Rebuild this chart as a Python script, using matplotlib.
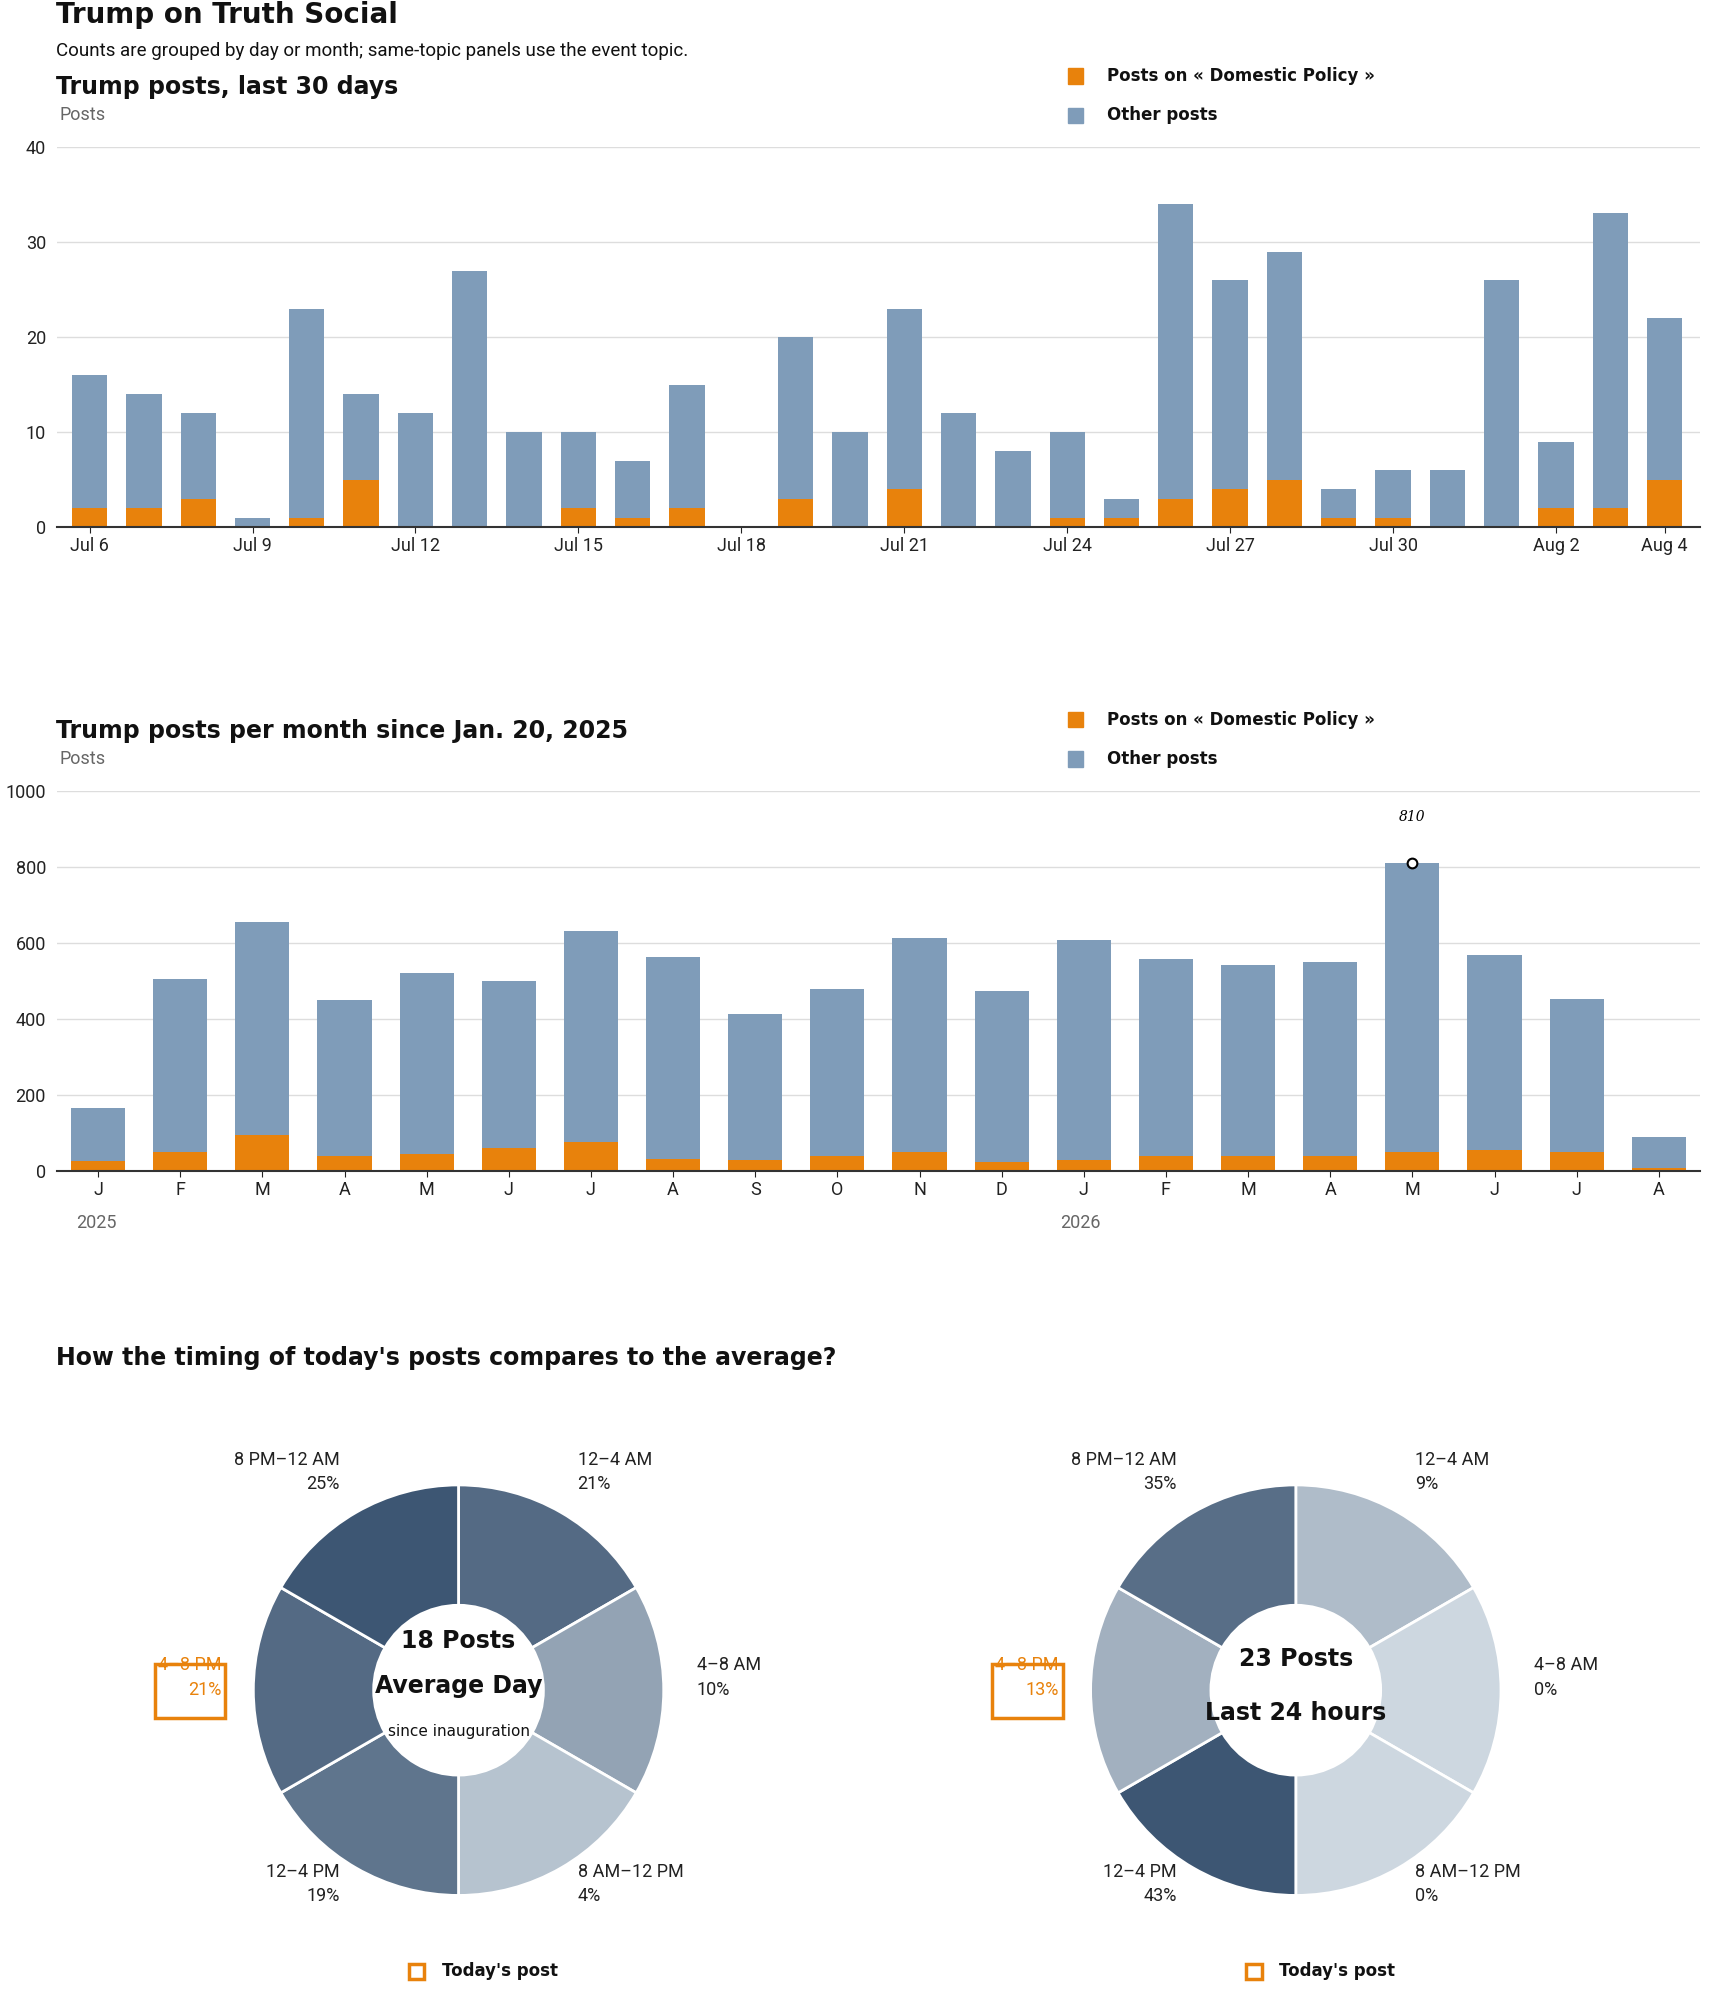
import matplotlib
matplotlib.use("Agg")
import matplotlib.pyplot as plt
import numpy as np
from matplotlib.colors import LinearSegmentedColormap
from matplotlib.patches import Rectangle

# ---------------- data ----------------
day_labels = ["Jul 6","Jul 7","Jul 8","Jul 9","Jul 10","Jul 11","Jul 12","Jul 13","Jul 14","Jul 15",
              "Jul 16","Jul 17","Jul 18","Jul 19","Jul 20","Jul 21","Jul 22","Jul 23","Jul 24","Jul 25",
              "Jul 26","Jul 27","Jul 28","Jul 29","Jul 30","Jul 31","Aug 1","Aug 2","Aug 3","Aug 4"]
day_total = [16,14,12,1,23,14,12,27,10,10,7,15,0,20,10,23,12,8,10,3,34,26,29,4,6,6,26,9,33,22]
day_topic = [2,2,3,0,1,5,0,0,0,2,1,2,0,3,0,4,0,0,1,1,3,4,5,1,1,0,0,2,2,5]
day_ticks = ["Jul 6","Jul 9","Jul 12","Jul 15","Jul 18","Jul 21","Jul 24","Jul 27","Jul 30","Aug 2","Aug 4"]

month_labels = ["J","F","M","A","M","J","J","A","S","O","N","D","J","F","M","A","M","J","J","A"]
month_total = [165,505,655,448,520,500,630,563,413,478,612,473,606,557,540,550,810,567,453,90]
month_topic = [25,50,95,38,45,60,75,30,28,38,48,22,28,38,38,40,48,55,50,8]
year_labels = ["2025","2026"]

slot_labels = ["12–4 AM","4–8 AM","8 AM–12 PM","12–4 PM","4–8 PM","8 PM–12 AM"]
avg_pct = [21,10,4,19,21,25]
today_pct = [9,0,0,43,13,35]
avg_posts = 18
today_posts = 23

BLUE = "#7f9cb9"; ORANGE = "#e8820c"; DARK = "#111111"
HF = "DejaVu Sans"; BF = "Roboto"

W, H = 1350, 1573
fig = plt.figure(figsize=(17.1, 19.93), dpi=100)
def fx(x): return x / W
def fy(y): return 1 - y / H

fig.text(fx(44), fy(12), "Trump on Truth Social", fontsize=20, fontweight="bold", family=HF, va="center", color=DARK)
fig.text(fx(44), fy(40), "Counts are grouped by day or month; same-topic panels use the event topic.",
         fontsize=13.5, family=BF, va="center", color=DARK)

def legend(y0):
    for i, (c, t) in enumerate([(ORANGE, "Posts on « Domestic Policy »"), (BLUE, "Other posts")]):
        y = y0 + 31 * i
        fig.patches.append(Rectangle((fx(843), fy(y + 6)), fx(12), 12 / H, color=c, transform=fig.transFigure))
        fig.text(fx(874), fy(y), t, fontsize=12, fontweight="bold", family=HF, va="center", color=DARK)

def style(ax):
    for s in ["top", "right", "left"]:
        ax.spines[s].set_visible(False)
    ax.spines["bottom"].set_color("#333333"); ax.spines["bottom"].set_linewidth(1.5)
    ax.grid(axis="y", color="#dddddd", lw=1); ax.set_axisbelow(True)
    ax.tick_params(axis="y", length=0, labelsize=13, colors="#222222", pad=8)
    ax.tick_params(axis="x", length=4, labelsize=13, colors="#222222")
    for l in ax.get_yticklabels() + ax.get_xticklabels():
        l.set_family(BF)

# ---- chart 1 ----
fig.text(fx(44), fy(69), "Trump posts, last 30 days", fontsize=17, fontweight="bold", family=HF, va="center", color=DARK)
fig.text(fx(47), fy(91), "Posts", fontsize=13, family=BF, va="center", color="#666666")
legend(60)
ax1 = fig.add_axes([fx(45), fy(416), fx(1342) - fx(45), (416 - 116) / H])
x = np.arange(len(day_total))
other = np.array(day_total) - np.array(day_topic)
ax1.bar(x, day_topic, width=0.65, color=ORANGE)
ax1.bar(x, other, bottom=day_topic, width=0.65, color=BLUE)
ax1.set_ylim(0, 40); ax1.set_yticks([0, 10, 20, 30, 40])
ax1.set_xlim(-0.6, len(x) - 0.35)
ax1.set_xticks([day_labels.index(t) for t in day_ticks]); ax1.set_xticklabels(day_ticks)
style(ax1)

# ---- chart 2 ----
fig.text(fx(44), fy(577), "Trump posts per month since Jan. 20, 2025", fontsize=17, fontweight="bold", family=HF, va="center", color=DARK)
fig.text(fx(47), fy(599), "Posts", fontsize=13, family=BF, va="center", color="#666666")
legend(568)
ax2 = fig.add_axes([fx(45), fy(924), fx(1342) - fx(45), (924 - 624) / H])
m = np.arange(len(month_total))
mother = np.array(month_total) - np.array(month_topic)
ax2.bar(m, month_topic, width=0.66, color=ORANGE)
ax2.bar(m, mother, bottom=month_topic, width=0.66, color=BLUE)
ax2.set_ylim(0, 1000); ax2.set_yticks(range(0, 1001, 200))
ax2.set_xlim(-0.5, len(m) - 0.5)
ax2.set_xticks(m); ax2.set_xticklabels(month_labels)
style(ax2)
imax = int(np.argmax(month_total))
ax2.plot([imax], [month_total[imax]], "o", mfc="white", mec="black", ms=7, mew=1.5)
ax2.annotate(str(month_total[imax]), (imax, month_total[imax]), xytext=(0, 30), textcoords="offset points",
             ha="center", fontsize=10, style="italic", family="DejaVu Serif")
fig.text(fx(60), fy(965), year_labels[0], fontsize=13, family=BF, color="#666666", va="center")
fig.text(fx(837), fy(965), year_labels[1], fontsize=13, family=BF, color="#666666", va="center")

# ---- donuts ----
fig.text(fx(44), fy(1072), "How the timing of today's posts compares to the average?", fontsize=17,
         fontweight="bold", family=HF, va="center", color=DARK)
axd = fig.add_axes([0, 0, 1, 1]); axd.set_xlim(0, W); axd.set_ylim(0, H); axd.axis("off")
cmap = LinearSegmentedColormap.from_list("b", ["#cdd7e0", "#3d5673"])

def donut(cx, cy, pcts, lines):
    cols = [cmap(p / max(pcts)) for p in pcts]
    axd.pie([1] * 6, colors=cols, center=(cx, H - cy), radius=162, startangle=90, counterclock=False,
            wedgeprops=dict(width=95, edgecolor="white", linewidth=2), frame=True)
    pos = [(94, -172, "left"), (188, -10, "left"), (94, 153, "left"),
           (-94, 153, "right"), (-187, -10, "right"), (-94, -172, "right")]
    for (dx, dy, ha), lab, p in zip(pos, slot_labels, pcts):
        col = ORANGE if lab == "4–8 PM" else "#222222"
        axd.text(cx + dx, H - (cy + dy), f"{lab}\n{p}%", ha=ha, va="center", fontsize=13, family=BF,
                 color=col, linespacing=1.45, multialignment=ha)
    axd.add_patch(Rectangle((cx - 240, H - (cy + 22)), 56, 43, fill=False, ec=ORANGE, lw=2.5))
    for txt, ty, fs, fw in lines:
        axd.text(cx, H - ty, txt, ha="center", va="center", fontsize=fs, fontweight=fw, family=HF, color=DARK)
    axd.add_patch(Rectangle((cx - 39, H - 1562), 12, 12, fill=False, ec=ORANGE, lw=2.5))
    axd.text(cx - 13, H - 1556, "Today's post", ha="left", va="center", fontsize=12, fontweight="bold", family=HF, color=DARK)

donut(362, 1334, avg_pct, [(f"{avg_posts} Posts", 1295, 17, "bold"), ("Average Day", 1331, 17, "bold"),
                           ("since inauguration", 1367, 11, "normal")])
donut(1023, 1334, today_pct, [(f"{today_posts} Posts", 1309, 17, "bold"), ("Last 24 hours", 1352, 17, "bold")])
axd.set_aspect("auto"); axd.set_xlim(0, W); axd.set_ylim(0, H)

fig.savefig("out.png", dpi=100, facecolor="white")
